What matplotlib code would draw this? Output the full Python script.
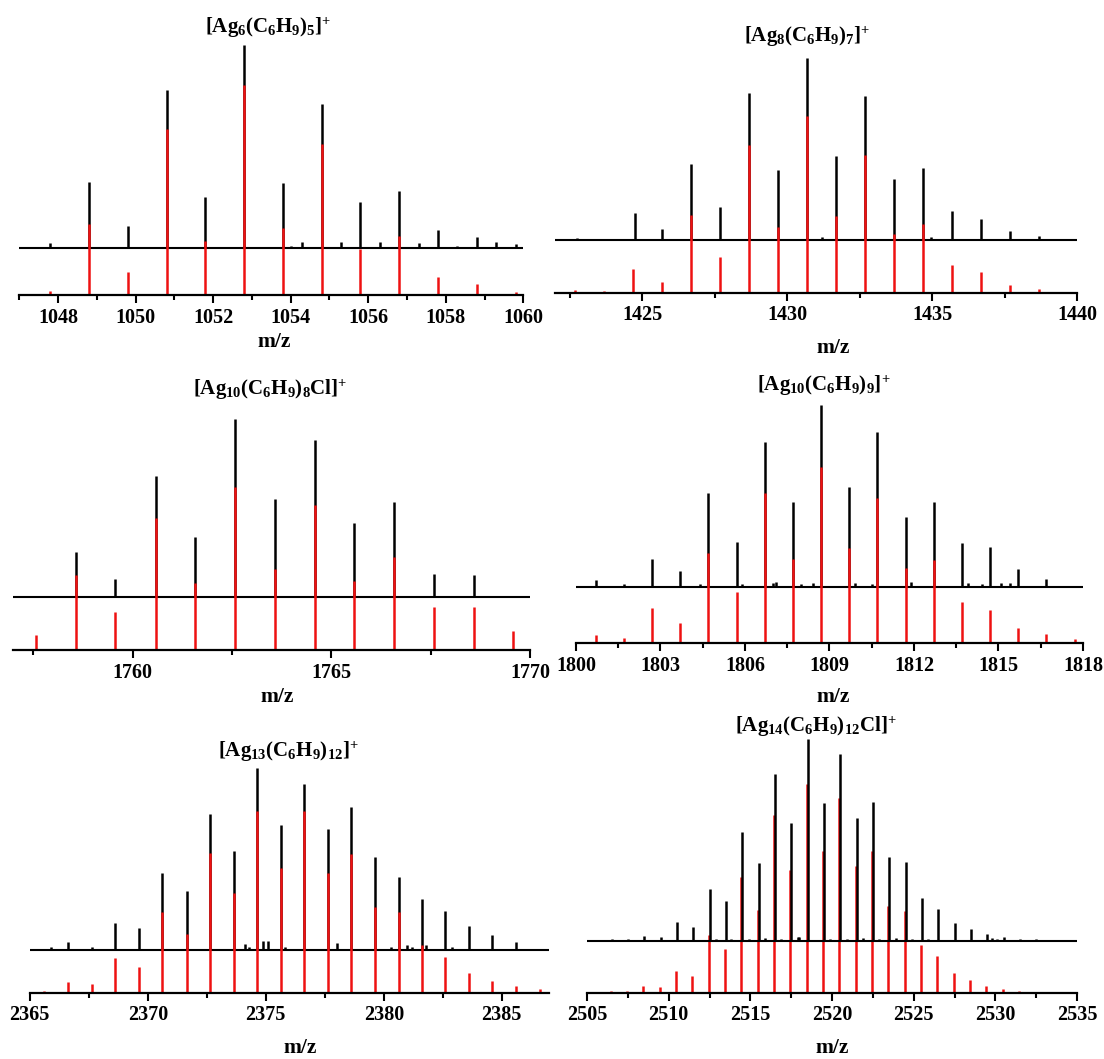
import numpy as np
import matplotlib
matplotlib.use('Agg')
import matplotlib.pyplot as plt
from matplotlib.ticker import MultipleLocator

plt.rcParams['font.family'] = ['Liberation Serif', 'DejaVu Serif']
plt.rcParams['font.weight'] = 'bold'
plt.rcParams['mathtext.fontset'] = 'custom'
plt.rcParams['mathtext.rm'] = 'Liberation Serif:bold'
plt.rcParams['mathtext.it'] = 'Liberation Serif:bold'
plt.rcParams['mathtext.bf'] = 'Liberation Serif:bold'
plt.rcParams['mathtext.default'] = 'rm'

# ---- data (relative intensity, % of the strongest peak) ----
titles = [r'$[Ag_{6}(C_{6}H_{9})_{5}]^{+}$',
          r'$[Ag_{8}(C_{6}H_{9})_{7}]^{+}$',
          r'$[Ag_{10}(C_{6}H_{9})_{8}Cl]^{+}$',
          r'$[Ag_{10}(C_{6}H_{9})_{9}]^{+}$',
          r'$[Ag_{13}(C_{6}H_{9})_{12}]^{+}$',
          r'$[Ag_{14}(C_{6}H_{9})_{12}Cl]^{+}$']

p1_exp_mz = [1047.8, 1048.8, 1049.2, 1049.8, 1050.0, 1050.2, 1050.8, 1051.8, 1052.1, 1052.3,
             1052.8, 1053.0, 1053.8, 1054.0, 1054.3, 1054.8, 1055.1, 1055.3, 1055.8, 1056.1,
             1056.3, 1056.8, 1057.3, 1057.8, 1058.3, 1058.8, 1059.3, 1059.8]
p1_exp_int = [2.5, 32.8, 0.7, 11.0, 0.7, 0.7, 77.9, 25.4, 0.7, 0.7,
              100, 0.8, 32.0, 1.0, 3.3, 70.8, 0.8, 3.3, 23.0, 0.7,
              3.3, 28.2, 2.5, 9.0, 1.3, 5.6, 3.3, 2.0]
p1_sim_mz = [1047.8, 1048.8, 1049.8, 1050.8, 1051.8, 1052.8, 1053.8, 1054.8, 1055.8,
             1056.8, 1057.8, 1058.8, 1059.8]
p1_sim_int = [2.0, 33.8, 11.1, 79.4, 25.9, 100, 32.1, 71.9, 22.2, 28.3, 8.7, 5.2, 1.4]

p2_exp_mz = [1422.75, 1424.75, 1425.7, 1426.7, 1427.7, 1428.7, 1429.7, 1430.7, 1431.2,
             1431.7, 1432.7, 1433.7, 1434.7, 1434.97, 1435.7, 1436.7, 1437.7, 1438.7]
p2_exp_int = [1.1, 14.7, 5.9, 41.8, 17.8, 80.6, 38.5, 100, 1.5,
              46.1, 79.1, 33.6, 39.6, 1.3, 15.6, 11.6, 4.8, 2.2]
p2_sim_mz = [1422.7, 1423.7, 1424.7, 1425.7, 1426.7, 1427.7, 1428.7, 1429.7, 1430.7,
             1431.7, 1432.7, 1433.7, 1434.7, 1435.7, 1436.7, 1437.7, 1438.7, 1439.7]
p2_sim_int = [1.9, 0.9, 13.6, 6.2, 44.1, 20.2, 83.4, 37.3, 100,
              43.5, 77.8, 33.1, 39.2, 15.8, 12.1, 4.7, 2.1, 0.6]

p3_exp_mz = [1758.57, 1759.57, 1760.58, 1761.57, 1762.57, 1763.58, 1764.58, 1765.58,
             1766.58, 1767.58, 1768.58]
p3_exp_int = [25.6, 10.3, 67.9, 34.0, 100, 54.9, 88.1, 41.4, 53.4, 12.9, 12.5]
p3_sim_mz = [1757.57, 1758.57, 1759.57, 1760.58, 1761.57, 1762.57, 1763.58, 1764.58,
             1765.58, 1766.58, 1767.58, 1768.58, 1769.58]
p3_sim_int = [9.2, 45.9, 23.5, 80.6, 40.8, 100, 49.4, 88.8, 42.4, 56.7, 26.5, 26.1, 11.6]

p4_exp_mz = [1800.7, 1801.7, 1802.7, 1803.7, 1804.4, 1804.7, 1805.7, 1805.9, 1806.7, 1807.0,
             1807.1, 1807.7, 1808.0, 1808.4, 1808.7, 1809.7, 1809.9, 1810.5, 1810.7, 1811.7,
             1811.9, 1812.7, 1813.7, 1813.9, 1814.4, 1814.7, 1815.1, 1815.4, 1815.7, 1816.7]
p4_exp_int = [4.0, 2.0, 15.8, 9.0, 2.0, 52.0, 24.7, 1.8, 80.0, 2.4,
              2.9, 46.9, 2.0, 2.2, 100, 54.9, 2.2, 2.0, 85.3, 38.6,
              2.7, 46.9, 24.2, 2.2, 1.8, 22.3, 2.2, 2.2, 10.3, 4.6]
p4_sim_mz = [1800.7, 1801.7, 1802.7, 1803.7, 1804.7, 1805.7, 1806.7, 1807.7, 1808.7,
             1809.7, 1810.7, 1811.7, 1812.7, 1813.7, 1814.7, 1815.7, 1816.7, 1817.7]
p4_sim_int = [4.7, 3.0, 19.9, 11.6, 51.1, 29.0, 85.6, 47.7, 100,
              54.0, 82.4, 42.6, 47.3, 23.3, 18.9, 8.7, 5.1, 2.3]

p5_exp_mz = [2365.9, 2366.63, 2367.64, 2368.63, 2369.64, 2370.61, 2371.64, 2372.63, 2373.64,
             2374.1, 2374.3, 2374.63, 2374.9, 2375.1, 2375.63, 2375.8, 2376.63, 2377.63,
             2378.0, 2378.61, 2379.61, 2380.3, 2380.63, 2381.0, 2381.2, 2381.63, 2381.8,
             2382.6, 2382.9, 2383.6, 2384.6, 2385.6]
p5_exp_int = [1.8, 4.6, 1.8, 15.0, 12.3, 42.5, 32.4, 74.5, 54.6,
              3.3, 1.8, 100, 4.8, 4.8, 68.9, 1.5, 91.2, 66.3,
              4.0, 78.4, 51.3, 1.8, 40.3, 2.6, 1.6, 27.8, 2.7,
              21.2, 1.5, 13.4, 8.1, 4.2]
p5_sim_mz = [2365.6, 2366.63, 2367.64, 2368.63, 2369.64, 2370.61, 2371.64, 2372.63, 2373.64,
             2374.63, 2375.63, 2376.63, 2377.63, 2378.61, 2379.61, 2380.63, 2381.63, 2382.6,
             2383.6, 2384.6, 2385.6, 2386.6]
p5_sim_int = [1.1, 5.9, 4.8, 18.9, 14.3, 44.3, 32.2, 76.9, 54.6,
              100, 68.3, 100, 65.6, 76.2, 47.3, 44.3, 26.2, 19.8,
              10.6, 6.6, 3.7, 2.2]

p6_exp_mz = [2506.5, 2507.5, 2508.5, 2509.5, 2510.5, 2511.5, 2512.5, 2512.9, 2513.5, 2513.8,
             2514.5, 2514.9, 2515.5, 2515.9, 2516.5, 2516.9, 2517.5, 2517.9, 2518.0, 2518.5,
             2519.5, 2519.9, 2520.5, 2520.9, 2521.5, 2521.9, 2522.5, 2522.9, 2523.5, 2523.9,
             2524.5, 2524.9, 2525.5, 2525.9, 2526.5, 2527.5, 2528.5, 2529.5, 2529.8, 2530.1,
             2530.5, 2531.5, 2532.5]
p6_exp_int = [0.7, 0.7, 2.5, 2.0, 9.1, 6.8, 25.6, 0.8, 19.5, 1.0,
              53.6, 0.8, 38.6, 1.5, 82.5, 1.0, 58.4, 2.0, 2.0, 100,
              68.3, 1.0, 92.2, 0.7, 60.7, 1.3, 68.6, 1.0, 41.4, 1.3,
              38.9, 0.8, 21.1, 0.8, 15.7, 8.9, 5.6, 3.1, 1.3, 1.0,
              1.7, 1.0, 0.7]
p6_sim_mz = [2506.45, 2507.45, 2508.45, 2509.45, 2510.45, 2511.45, 2512.45, 2513.45, 2514.45,
             2515.45, 2516.45, 2517.45, 2518.45, 2519.45, 2520.45, 2521.45, 2522.45, 2523.45,
             2524.45, 2525.45, 2526.45, 2527.45, 2528.45, 2529.45, 2530.45, 2531.45, 2532.45]
p6_sim_int = [0.6, 0.6, 3.2, 2.5, 10.4, 8.0, 27.5, 20.7, 55.4, 39.8,
              84.9, 58.9, 100, 68.0, 93.2, 60.5, 67.8, 41.4, 39.2, 22.8,
              17.5, 9.6, 6.1, 3.3, 1.9, 1.0, 0.5]

xlims = [(1047, 1060), (1422, 1440), (1757, 1770), (1800, 1818), (2365, 2387), (2505, 2535)]
major_steps = [2, 5, 5, 3, 5, 5]
minor_steps = [1, 2.5, 2.5, 1.5, 2.5, 2.5]

# ---- layout in pixels of the 1104 x 1059 picture ----
W, H = 1104, 1059
panels = [
    # left, right, axis_y, black offset, black max, red max, title xy, m/z xy
    dict(l=19.3, r=523.3, ay=295.3, off=47.0, bh=203.3, rh=210.0, t=(268, 28), m=(274, 342)),
    dict(l=555.0, r=1077.0, ay=293.0, off=53.4, bh=181.7, rh=177.0, t=(807, 37), m=(833, 348)),
    dict(l=13.3, r=530.0, ay=650.0, off=52.7, bh=178.7, rh=163.3, t=(270, 390), m=(277, 697)),
    dict(l=576.0, r=1083.0, ay=643.3, off=56.0, bh=182.0, rh=176.0, t=(824, 386), m=(833, 697)),
    dict(l=29.8, r=549.0, ay=992.7, off=42.7, bh=182.0, rh=182.0, t=(288, 752), m=(300, 1048)),
    dict(l=587.0, r=1077.0, ay=992.7, off=52.0, bh=202.0, rh=209.0, t=(816, 727), m=(832, 1048)),
]
exp_mz = [p1_exp_mz, p2_exp_mz, p3_exp_mz, p4_exp_mz, p5_exp_mz, p6_exp_mz]
exp_int = [p1_exp_int, p2_exp_int, p3_exp_int, p4_exp_int, p5_exp_int, p6_exp_int]
sim_mz = [p1_sim_mz, p2_sim_mz, p3_sim_mz, p4_sim_mz, p5_sim_mz, p6_sim_mz]
sim_int = [p1_sim_int, p2_sim_int, p3_sim_int, p4_sim_int, p5_sim_int, p6_sim_int]

fig = plt.figure(figsize=(W / 100, H / 100), dpi=100)
top_h = 260.0

for i, p in enumerate(panels):
    ax = fig.add_axes([p['l'] / W, 1 - p['ay'] / H, (p['r'] - p['l']) / W, top_h / H])
    ax.set_xlim(*xlims[i])
    ax.set_ylim(0, top_h)

    ex = np.array(exp_mz[i]); ey = np.array(exp_int[i]) / 100 * p['bh']
    sx = np.array(sim_mz[i]); sy = np.array(sim_int[i]) / 100 * p['rh']

    # last panel: experiment drawn over the simulation
    red_z, blk_z = (1, 3) if i == 5 else (3, 2)

    ax.hlines(p['off'], xlims[i][0], xlims[i][1], color='black', lw=1.5, zorder=2)
    ax.vlines(ex, p['off'], p['off'] + ey, color='black', lw=1.8, zorder=blk_z)
    ax.vlines(sx, 0, sy, color='#ee1111', lw=1.8, zorder=red_z)

    for s in ['left', 'right', 'top']:
        ax.spines[s].set_visible(False)
    ax.spines['bottom'].set_linewidth(1.6)
    ax.spines['bottom'].set_zorder(4)
    ax.set_yticks([])
    ax.xaxis.set_major_locator(MultipleLocator(major_steps[i]))
    ax.xaxis.set_minor_locator(MultipleLocator(minor_steps[i]))
    ax.tick_params(axis='x', which='major', direction='out', length=6, width=1.5,
                   labelsize=14.5, pad=3)
    ax.tick_params(axis='x', which='minor', direction='out', length=3.5, width=1.5)
    ax.patch.set_alpha(0)

    fig.text(p['t'][0] / W, 1 - p['t'][1] / H, titles[i], ha='center', va='center', fontsize=15)
    fig.text(p['m'][0] / W, 1 - p['m'][1] / H, 'm/z', ha='center', va='center',
             fontsize=15.5, fontweight='bold')

fig.savefig('out.png', dpi=100)
